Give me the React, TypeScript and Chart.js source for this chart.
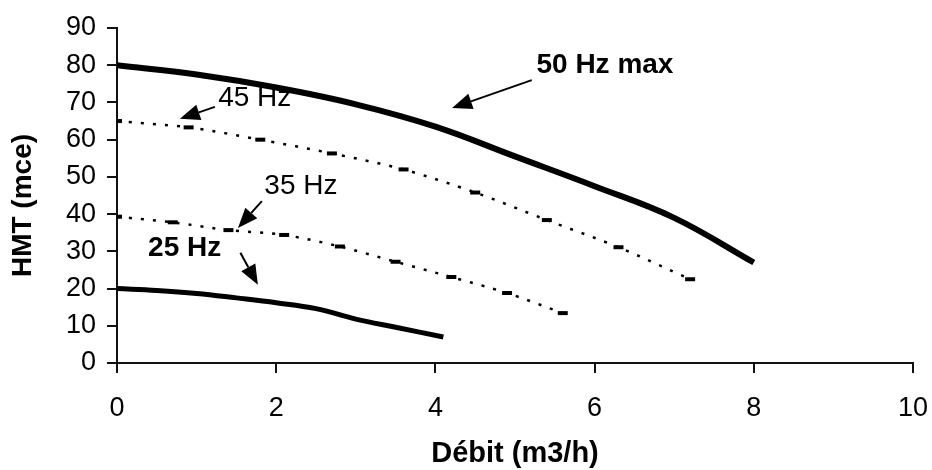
import React, { useEffect, useRef } from 'react';
import { Chart, registerables } from 'chart.js';

Chart.register(...registerables);

// ---- data ----
const flow50 = [0, 1, 2, 3, 4, 5, 6, 7, 8];
const head50 = [80, 77.5, 74, 69.5, 63.5, 55.5, 47.5, 39, 27];
const flow45 = [0, 0.9, 1.8, 2.7, 3.6, 4.5, 5.4, 6.3, 7.2];
const head45 = [65, 63.3, 60, 56.3, 52, 45.8, 38.4, 31.1, 22.5];
const flow35 = [0, 0.7, 1.4, 2.1, 2.8, 3.5, 4.2, 4.9, 5.6];
const head35 = [39.3, 37.8, 35.7, 34.4, 31.3, 27.2, 23.1, 18.8, 13.4];
const flow25 = [0, 0.5, 1, 1.5, 2, 2.5, 3, 3.5, 4.1];
const head25 = [20, 19.5, 18.7, 17.5, 16.2, 14.6, 11.8, 9.6, 7];

const seriesLabels = ['50 Hz max', '45 Hz', '35 Hz', '25 Hz'];
const xTitle = 'Débit (m3/h)';
const yTitle = 'HMT (mce)';
const xMin = 0, xMax = 10, xStep = 2;
const yMin = 0, yMax = 90, yStep = 10;

// annotation anchors in data coordinates: text centre, arrow start, arrow tip
const annText = [
  { x: 6.13, y: 80.1, bold: true },
  { x: 1.73, y: 71.2, bold: false },
  { x: 2.31, y: 47.6, bold: false },
  { x: 0.85, y: 30.9, bold: true },
];
const annArrow = [
  { x0: 5.21, y0: 76, x1: 4.21, y1: 68.5 },
  { x0: 1.23, y0: 68.8, x1: 0.79, y1: 65.6 },
  { x0: 1.82, y0: 43.5, x1: 1.52, y1: 36.3 },
  { x0: 1.55, y0: 29.6, x1: 1.77, y1: 21 },
];

const FONT = "'Liberation Sans', Arial, Helvetica, sans-serif";

const pts = (xs: number[], ys: number[]) => xs.map((x, i) => ({ x, y: ys[i] }));

const annotationPlugin = {
  id: 'pumpAnnotations',
  afterDraw(chart: any) {
    const { ctx, chartArea } = chart;
    const xs = chart.scales.x;
    const ys = chart.scales.y;
    ctx.save();
    ctx.fillStyle = '#000';
    ctx.strokeStyle = '#000';
    ctx.textAlign = 'center';
    ctx.textBaseline = 'middle';
    annText.forEach((a, i) => {
      ctx.font = `${a.bold ? 'bold ' : ''}28px ${FONT}`;
      ctx.fillText(seriesLabels[i], xs.getPixelForValue(a.x), ys.getPixelForValue(a.y));
    });
    annArrow.forEach((a) => {
      const x0 = xs.getPixelForValue(a.x0), y0 = ys.getPixelForValue(a.y0);
      const x1 = xs.getPixelForValue(a.x1), y1 = ys.getPixelForValue(a.y1);
      const ang = Math.atan2(y1 - y0, x1 - x0);
      const head = 20, half = 8;
      const bx = x1 - head * Math.cos(ang), by = y1 - head * Math.sin(ang);
      ctx.lineWidth = 2;
      ctx.beginPath();
      ctx.moveTo(x0, y0);
      ctx.lineTo(bx, by);
      ctx.stroke();
      ctx.beginPath();
      ctx.moveTo(x1, y1);
      ctx.lineTo(bx + half * Math.sin(ang), by - half * Math.cos(ang));
      ctx.lineTo(bx - half * Math.sin(ang), by + half * Math.cos(ang));
      ctx.closePath();
      ctx.fill();
    });
    // y axis title (slightly below the plot centre, as in the reference)
    ctx.save();
    ctx.translate(23, (chartArea.top + chartArea.bottom) / 2 + 10);
    ctx.rotate(-Math.PI / 2);
    ctx.font = `bold 28px ${FONT}`;
    ctx.fillText(yTitle, 0, 0);
    ctx.restore();
    ctx.restore();
  },
};

export default function App() {
  const ref = useRef<HTMLCanvasElement | null>(null);
  useEffect(() => {
    if (!ref.current) return;
    const dotted = {
      borderColor: '#000',
      borderWidth: 2.5,
      borderDash: [3, 9],
      pointStyle: 'line',
      pointRadius: 5,
      pointBorderWidth: 4,
      pointBorderColor: '#000',
      pointBackgroundColor: '#000',
      tension: 0.3,
      fill: false,
    };
    const chart = new Chart(ref.current, {
      type: 'line',
      data: {
        datasets: [
          { label: seriesLabels[0], data: pts(flow50, head50), borderColor: '#000', borderWidth: 6, pointRadius: 0, tension: 0.4, fill: false },
          { label: seriesLabels[1], data: pts(flow45, head45), ...dotted },
          { label: seriesLabels[2], data: pts(flow35, head35), ...dotted },
          { label: seriesLabels[3], data: pts(flow25, head25), borderColor: '#000', borderWidth: 5, pointRadius: 0, tension: 0.4, fill: false },
        ] as any,
      },
      options: {
        animation: false,
        responsive: true,
        maintainAspectRatio: false,
        layout: { padding: { left: 0, top: 28, right: 19, bottom: 0 } },
        plugins: { legend: { display: false }, tooltip: { enabled: false } },
        scales: {
          x: {
            type: 'linear',
            min: xMin,
            max: xMax,
            ticks: { stepSize: xStep, color: '#000', padding: 19, font: { family: FONT, size: 27 } },
            grid: { drawOnChartArea: false, drawTicks: true, tickLength: 10, color: '#111', lineWidth: 2 },
            border: { display: true, color: '#111', width: 2 },
            title: { display: true, text: xTitle, color: '#000', font: { family: FONT, size: 29, weight: 'bold', lineHeight: 1 }, padding: { top: 0, bottom: 2 } },
            afterFit: (s: any) => { s.height = 107; s.paddingLeft = 0; s.paddingRight = 0; },
          },
          y: {
            type: 'linear',
            min: yMin,
            max: yMax,
            ticks: { stepSize: yStep, color: '#000', padding: 11, font: { family: FONT, size: 27 } },
            grid: { drawOnChartArea: false, drawTicks: true, tickLength: 10, color: '#111', lineWidth: 2 },
            border: { display: true, color: '#111', width: 2 },
            title: { display: false },
            afterFit: (s: any) => { s.width = 117; s.paddingTop = 0; s.paddingBottom = 0; },
          },
        },
      } as any,
      plugins: [annotationPlugin],
    });
    return () => chart.destroy();
  }, []);
  return (
    <div style={{ position: 'fixed', left: 0, top: 0, width: 932, height: 470, background: '#fff' }}>
      <canvas ref={ref} />
    </div>
  );
}
